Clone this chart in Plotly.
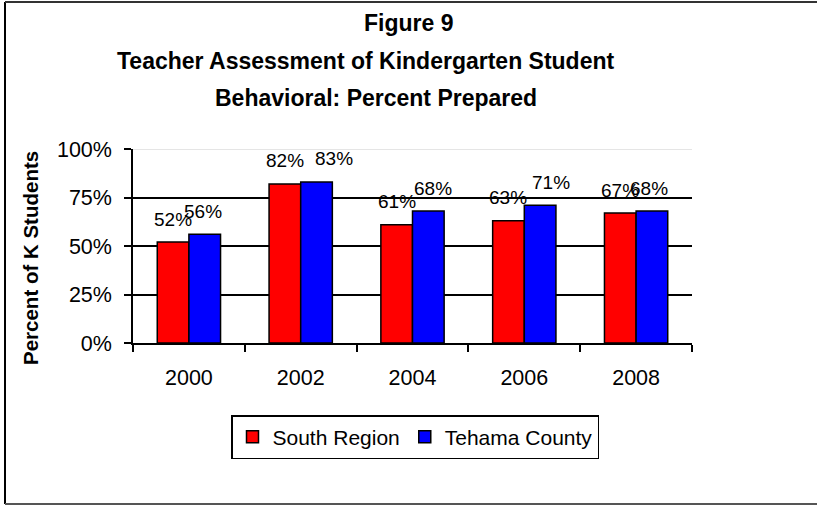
import plotly.graph_objects as go

years = ["2000", "2002", "2004", "2006", "2008"]
south_region = [52, 82, 61, 63, 67]
tehama_county = [56, 83, 68, 71, 68]
y_ticks = [0, 25, 50, 75, 100]
y_tick_labels = ["0%", "25%", "50%", "75%", "100%"]

FONT = "Liberation Sans, Arial, sans-serif"

fig = go.Figure()
fig.add_trace(go.Bar(
    x=years, y=south_region, name="South Region",
    marker=dict(color="#FF0000", line=dict(color="black", width=1.5)),
))
fig.add_trace(go.Bar(
    x=years, y=tehama_county, name="Tehama County",
    marker=dict(color="#0000FF", line=dict(color="black", width=1.5)),
))

# data labels sitting above each bar, Excel style
# (category index used for x, numeric-looking strings confuse the category axis)
# Excel nudged a few of the blue labels to the right to avoid overlaps
nudge_south = [0, 0, 0, 0, 0]
nudge_tehama = [-2, 17, 4, 11, -3]
annotations = []
for vals, shift, nudges in ((south_region, -16, nudge_south),
                            (tehama_county, 16, nudge_tehama)):
    for i, (v, n) in enumerate(zip(vals, nudges)):
        annotations.append(dict(
            x=i, y=v, text=f"{v}%", showarrow=False, xshift=shift + n, yshift=23,
            yanchor="middle", font=dict(family=FONT, size=19, color="black"),
        ))

# title lines
for text, cx, cy in (("Figure 9", 408, 23),
                     ("Teacher Assessment of Kindergarten Student", 366, 61),
                     ("Behavioral: Percent Prepared", 376, 98)):
    annotations.append(dict(
        x=(cx - 133) / 559, y=(343 - cy) / 194, xref="paper", yref="paper",
        text=f"<b>{text}</b>", showarrow=False, xanchor="center", yanchor="middle",
        font=dict(family=FONT, size=23, color="black"),
    ))

annotations.append(dict(
    x=(30 - 133) / 559, y=(343 - 258) / 194, xref="paper", yref="paper",
    text="<b>Percent of K Students</b>", textangle=-90, showarrow=False,
    xanchor="center", yanchor="middle", font=dict(family=FONT, size=20.5, color="black"),
))

# chart frame: left, top and bottom edges only (right edge is cropped off)
fx0, fx1 = (5 - 133) / 559, (817 - 133) / 559
fy0, fy1 = (343 - 504) / 194, (343 - 2) / 194
frame = [
    dict(type="line", xref="paper", yref="paper", x0=fx0, x1=fx0, y0=fy0, y1=fy1,
         line=dict(color="black", width=2)),
    dict(type="line", xref="paper", yref="paper", x0=fx0, x1=fx1, y0=fy1, y1=fy1,
         line=dict(color="#333333", width=2)),
    dict(type="line", xref="paper", yref="paper", x0=fx0, x1=fx1, y0=fy0, y1=fy0,
         line=dict(color="#555555", width=2)),
]

fig.update_layout(
    width=817, height=506,
    margin=dict(l=133, r=125, t=149, b=163),
    paper_bgcolor="white", plot_bgcolor="white",
    barmode="group", bargap=0.434, bargroupgap=0,
    font=dict(family=FONT, size=21.5, color="black"),
    showlegend=True,
    legend=dict(
        orientation="h", x=(415 - 133) / 559, y=(343 - 415) / 194,
        xanchor="center", yanchor="top",
        bordercolor="black", borderwidth=1.5, bgcolor="white",
        font=dict(family=FONT, size=21, color="black"),
        itemwidth=30, tracegroupgap=0,
    ),
    annotations=annotations,
    shapes=[
        dict(type="line", xref="paper", yref="y", x0=0, x1=1, y0=100, y1=100,
             line=dict(color="#dddddd", width=1.5), layer="above"),
    ] + frame,
)
fig.update_xaxes(
    type="category", range=[-0.5, len(years) - 0.5],
    showline=True, linecolor="black", linewidth=1.5,
    ticks="outside", tickson="boundaries", ticklen=7, tickcolor="black", tickwidth=1.5,
    ticklabelstandoff=14,
    tickfont=dict(family=FONT, size=21.5, color="black"), showgrid=False,
)
fig.update_yaxes(
    range=[0, 100], tickvals=y_ticks, ticktext=y_tick_labels,
    showline=True, linecolor="black", linewidth=1.5,
    ticks="outside", ticklen=7, tickcolor="black", tickwidth=1.5,
    ticklabelstandoff=8,
    showgrid=True, gridcolor="black", gridwidth=1.5, zeroline=False,
    tickfont=dict(family=FONT, size=21.5, color="black"),
)

fig.write_html("out.html", config={"displayModeBar": False},
               post_script="document.body.style.margin='0';")
